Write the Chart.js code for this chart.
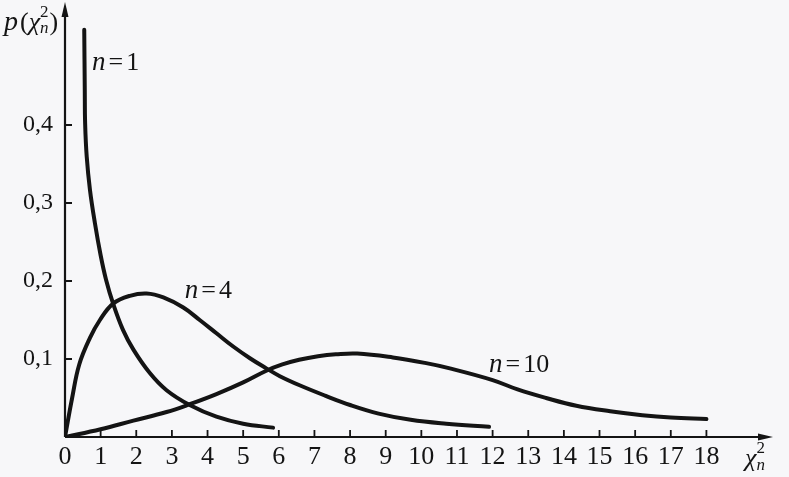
<!DOCTYPE html>
<html>
<head>
<meta charset="utf-8">
<title>p(χ²n)</title>
<script src="https://cdn.jsdelivr.net/npm/chart.js@4/dist/chart.umd.min.js"></script>
<style>
  html, body { margin: 0; padding: 0; background: #f7f7f9; }
  canvas { display: block; }
</style>
</head>
<body>
<canvas id="chi2Chart" width="789" height="477"></canvas>
<script>
// --- Données ---
const n1Chi = [0.54, 0.555, 0.565, 0.61, 0.70, 0.84, 1.0, 1.15, 1.35, 1.63, 1.92, 2.38, 2.85, 3.5, 4.25, 5.0, 5.84];
const n1Density = [0.522, 0.445, 0.402, 0.359, 0.317, 0.274, 0.233, 0.202, 0.171, 0.137, 0.112, 0.082, 0.060, 0.041, 0.026, 0.017, 0.012];

const n4Chi = [0, 0.2, 0.4, 0.7, 0.98, 1.35, 1.82, 2.29, 2.76, 3.32, 3.78, 4.25, 4.72, 5.19, 5.65, 6.03, 6.6, 7.3, 8.0, 8.8, 9.7, 10.7, 11.9];
const n4Density = [0, 0.05, 0.093, 0.127, 0.150, 0.171, 0.181, 0.184, 0.179, 0.166, 0.150, 0.133, 0.116, 0.101, 0.088, 0.078, 0.066, 0.053, 0.041, 0.030, 0.022, 0.017, 0.013];

const n10Chi = [0, 1.0, 1.92, 2.85, 3.5, 4.25, 5.0, 5.65, 6.1, 6.57, 7.1, 7.6, 8.2, 9.2, 10.1, 10.8, 12.0, 12.7, 13.5, 14.35, 15.3, 16.2, 17.0, 18.0];
const n10Density = [0, 0.010, 0.021, 0.032, 0.042, 0.055, 0.070, 0.085, 0.093, 0.099, 0.1035, 0.106, 0.107, 0.102, 0.095, 0.088, 0.073, 0.061, 0.050, 0.040, 0.033, 0.028, 0.025, 0.023];

const xTickValues = [0, 1, 2, 3, 4, 5, 6, 7, 8, 9, 10, 11, 12, 13, 14, 15, 16, 17, 18];
const xTickLabels = ['0', '1', '2', '3', '4', '5', '6', '7', '8', '9', '10', '11', '12', '13', '14', '15', '16', '17', '18'];
const yTickValues = [0.1, 0.2, 0.3, 0.4];
const yTickLabels = ['0,1', '0,2', '0,3', '0,4'];

const INK = '#141414';
const SERIF = '"Liberation Serif", Tinos, "Times New Roman", Times, serif';

function toPoints(xs, ys) {
  return xs.map((x, i) => ({ x: x, y: ys[i] }));
}

function curve(xs, ys) {
  return {
    data: toPoints(xs, ys),
    borderColor: INK,
    borderWidth: 4,
    borderCapStyle: 'round',
    borderJoinStyle: 'round',
    pointRadius: 0,
    tension: 0.4,
    fill: false
  };
}

// écrit "n = k" avec le n en italique
function drawCurveLabel(ctx, px, py, k) {
  ctx.font = 'italic 27px ' + SERIF;
  ctx.fillText('n', px, py);
  let cx = px + ctx.measureText('n').width + 3;
  ctx.font = '26px ' + SERIF;
  ctx.fillText('=', cx, py);
  cx += ctx.measureText('=').width + 3;
  ctx.fillText(k, cx, py);
}

const axesPlugin = {
  id: 'axesArrows',
  afterDraw(chart) {
    const { ctx, chartArea, scales } = chart;
    const x0 = scales.x.getPixelForValue(0);
    const y0 = scales.y.getPixelForValue(0);

    ctx.save();
    ctx.strokeStyle = INK;
    ctx.fillStyle = INK;
    ctx.lineWidth = 2.2;

    // axes
    ctx.beginPath();
    ctx.moveTo(x0, y0);
    ctx.lineTo(chartArea.right, y0);
    ctx.moveTo(x0, y0);
    ctx.lineTo(x0, chartArea.top);
    ctx.stroke();

    // flèches
    ctx.beginPath();
    ctx.moveTo(x0, chartArea.top - 6);
    ctx.lineTo(x0 - 3.5, chartArea.top + 9);
    ctx.lineTo(x0 + 3.5, chartArea.top + 9);
    ctx.closePath();
    ctx.fill();
    ctx.beginPath();
    ctx.moveTo(chartArea.right + 6, y0);
    ctx.lineTo(chartArea.right - 9, y0 - 3.5);
    ctx.lineTo(chartArea.right - 9, y0 + 3.5);
    ctx.closePath();
    ctx.fill();

    // graduations vers l'intérieur
    ctx.lineWidth = 1.8;
    ctx.beginPath();
    xTickValues.forEach(v => {
      if (v === 0) return;
      const px = scales.x.getPixelForValue(v);
      ctx.moveTo(px, y0);
      ctx.lineTo(px, y0 - 7);
    });
    yTickValues.forEach(v => {
      const py = scales.y.getPixelForValue(v);
      ctx.moveTo(x0, py);
      ctx.lineTo(x0 + 7, py);
    });
    ctx.stroke();

    // étiquettes des courbes
    ctx.textBaseline = 'alphabetic';
    ctx.textAlign = 'left';
    drawCurveLabel(ctx, scales.x.getPixelForValue(0.76), scales.y.getPixelForValue(0.47), '1');
    drawCurveLabel(ctx, scales.x.getPixelForValue(3.36), scales.y.getPixelForValue(0.178), '4');
    drawCurveLabel(ctx, scales.x.getPixelForValue(11.9), scales.y.getPixelForValue(0.083), '10');

    // titre de l'axe y : p(χ²n)
    let tx = 4, ty = 30;
    ctx.font = 'italic 28px ' + SERIF;
    ctx.fillText('p', tx, ty);
    tx += ctx.measureText('p').width + 2;
    ctx.font = '26px ' + SERIF;
    ctx.fillText('(', tx, ty);
    tx += ctx.measureText('(').width;
    ctx.font = 'italic 26px ' + SERIF;
    ctx.fillText('χ', tx, ty);
    tx += ctx.measureText('χ').width;
    ctx.font = '17px ' + SERIF;
    ctx.fillText('2', tx, ty - 13);
    ctx.font = 'italic 17px ' + SERIF;
    ctx.fillText('n', tx, ty + 3);
    tx += ctx.measureText('n').width + 1;
    ctx.font = '26px ' + SERIF;
    ctx.fillText(')', tx, ty);

    // titre de l'axe x : χ²n
    tx = 745; ty = 466;
    ctx.font = 'italic 26px ' + SERIF;
    ctx.fillText('χ', tx, ty);
    tx += ctx.measureText('χ').width;
    ctx.font = '17px ' + SERIF;
    ctx.fillText('2', tx, ty - 13);
    ctx.font = 'italic 17px ' + SERIF;
    ctx.fillText('n', tx, ty + 4);

    ctx.restore();
  }
};

const chi2Chart = new Chart(document.getElementById('chi2Chart'), {
  type: 'line',
  data: {
    datasets: [
      curve(n1Chi, n1Density),
      curve(n4Chi, n4Density),
      curve(n10Chi, n10Density)
    ]
  },
  options: {
    responsive: false,
    animation: false,
    devicePixelRatio: 1,
    layout: {
      padding: { top: 8, right: 22, left: 0, bottom: 0 }
    },
    plugins: {
      legend: { display: false },
      tooltip: { enabled: false }
    },
    scales: {
      x: {
        type: 'linear',
        min: 0,
        max: 19.7,
        border: { display: false },
        grid: { display: false, drawTicks: false },
        afterBuildTicks: scale => {
          scale.ticks = xTickValues.map(v => ({ value: v }));
        },
        afterFit: scale => {
          scale.height = 40;
          scale.paddingLeft = 0;
          scale.paddingRight = 0;
        },
        ticks: {
          autoSkip: false,
          maxRotation: 0,
          padding: 5,
          color: INK,
          font: { family: SERIF, size: 26 },
          callback: (value, index) => xTickLabels[index]
        }
      },
      y: {
        type: 'linear',
        min: 0,
        max: 0.55,
        border: { display: false },
        grid: { display: false, drawTicks: false },
        afterBuildTicks: scale => {
          scale.ticks = yTickValues.map(v => ({ value: v }));
        },
        afterFit: scale => {
          scale.width = 65;
          scale.paddingTop = 0;
          scale.paddingBottom = 0;
        },
        ticks: {
          padding: 12,
          color: INK,
          font: { family: SERIF, size: 24 },
          callback: (value, index) => yTickLabels[index]
        }
      }
    }
  },
  plugins: [axesPlugin]
});
</script>
</body>
</html>
